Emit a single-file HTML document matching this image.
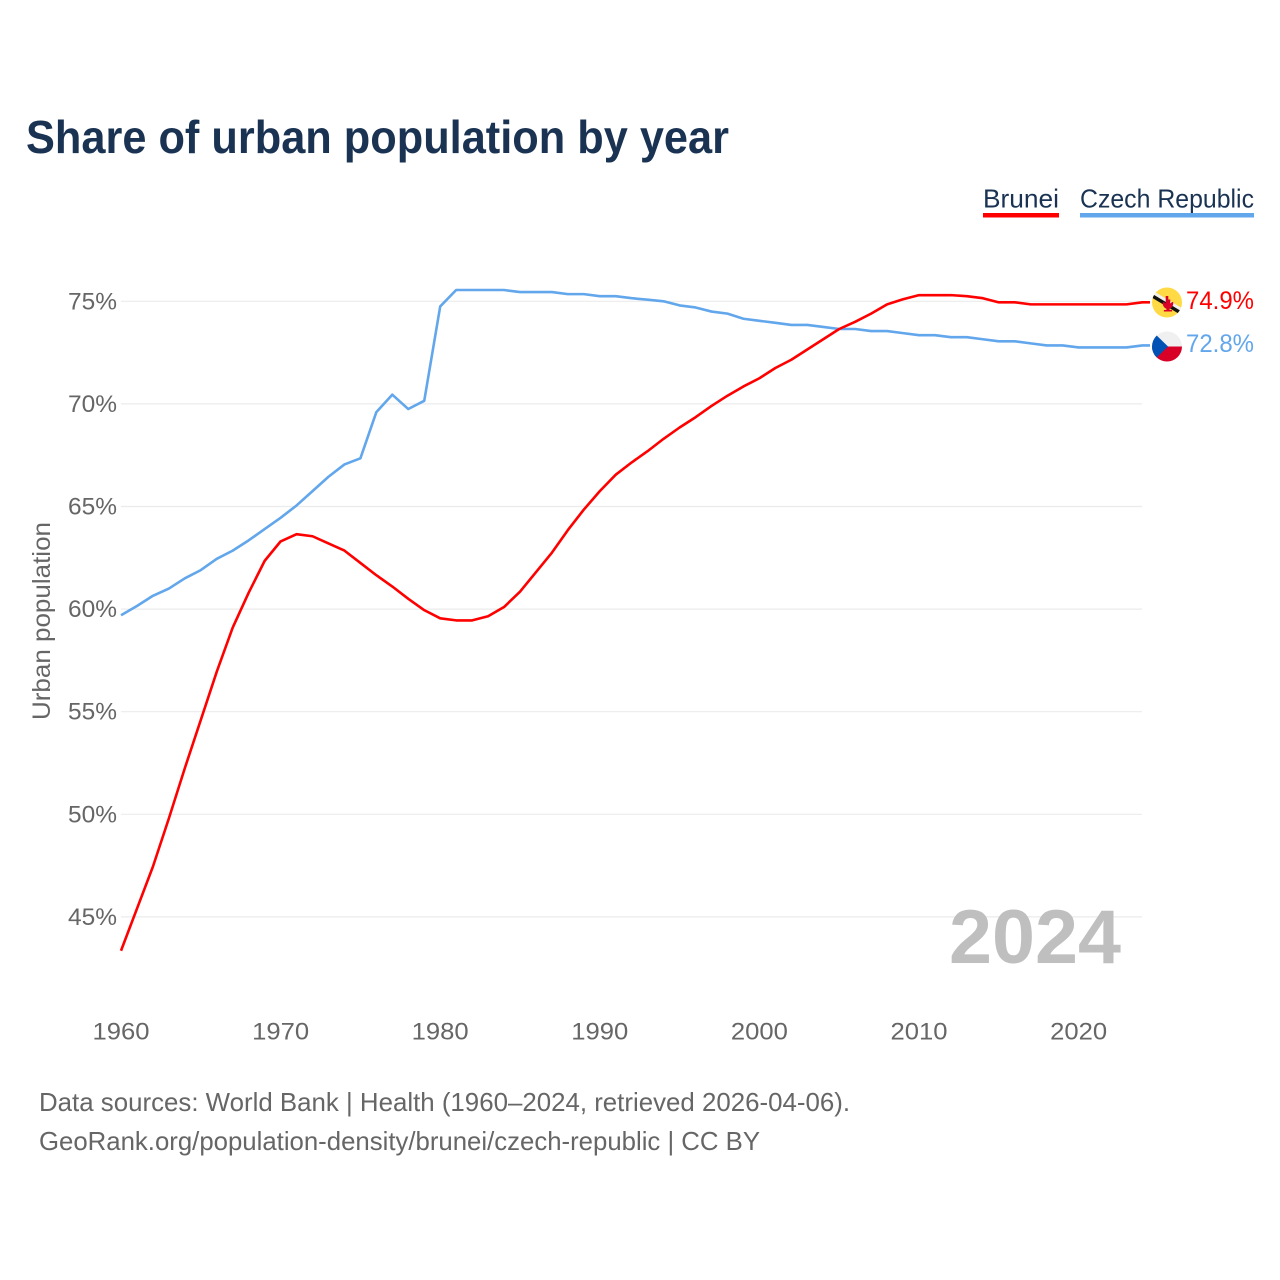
<!DOCTYPE html>
<html lang="en">
<head>
<meta charset="utf-8">
<title>Share of urban population by year</title>
<style>
html,body{margin:0;padding:0;background:#fff;width:1280px;height:1280px;overflow:hidden}
svg{display:block}
text{font-family:"Liberation Sans",sans-serif}
</style>
</head>
<body>
<svg id="chart" width="1280" height="1280" viewBox="0 0 1280 1280" xmlns="http://www.w3.org/2000/svg">
  <defs>
    <clipPath id="clip-bn"><circle cx="1167" cy="302.5" r="15"/></clipPath>
    <clipPath id="clip-cz"><circle cx="1167" cy="346.5" r="15"/></clipPath>
  </defs>
  <rect width="1280" height="1280" fill="#fff"/>
  <text x="26" y="153" font-size="46" font-weight="700" fill="#1a3353" textLength="703" lengthAdjust="spacingAndGlyphs">Share of urban population by year</text>

  <g>
    <g>
      <text x="983" y="207.500" font-size="26" fill="#1a3353" textLength="76" lengthAdjust="spacingAndGlyphs">Brunei</text>
      <rect x="983" y="213" width="76" height="4.5" fill="#ff0000"/>
    </g>
    <g>
      <text x="1080" y="207.500" font-size="26" fill="#1a3353" textLength="174" lengthAdjust="spacingAndGlyphs">Czech Republic</text>
      <rect x="1080" y="213" width="174" height="4.5" fill="#62a6ec"/>
    </g>
  </g>

  <g id="grid"></g>
  <g id="yticks"></g>
  <g id="xticks"></g>
  <text transform="translate(50,621) rotate(-90)" text-anchor="middle" font-size="25" fill="#666" textLength="198" lengthAdjust="spacingAndGlyphs">Urban population</text>

  <text x="949" y="963" font-size="76" font-weight="700" fill="#bfbfbf" textLength="172" lengthAdjust="spacingAndGlyphs">2024</text>

  <g id="series"></g>

  <g clip-path="url(#clip-bn)">
    <rect x="1150" y="285" width="34" height="36" fill="#ffda44"/>
    <polygon points="1150,289 1186,310.500 1186,314 1150,292.500" fill="#f0f0f0"/>
    <polygon points="1150,292.500 1186,314 1186,318 1150,296.500" fill="#111"/>
    <path d="M1165.700 296h2.600v3.500h2v4l2-1.600 1 .6c0 3.500-1.600 5.500-3.700 6.200v1.300h2.500v1.500h-8.200v-1.500h2.500v-1.300c-2.100-.7-3.700-2.700-3.700-6.200l1-.6 2 1.600v-4h.0z" fill="#d80027"/>
  </g>
  <g clip-path="url(#clip-cz)">
    <rect x="1150" y="329" width="34" height="18" fill="#f0f0f0"/>
    <rect x="1150" y="346.500" width="34" height="18" fill="#d80027"/>
    <polygon points="1150,329 1168,346.500 1150,364" fill="#0052b4"/>
  </g>

  <text x="1186" y="309" font-size="25" fill="#ff0000" textLength="68" lengthAdjust="spacingAndGlyphs">74.9%</text>
  <text x="1186" y="352" font-size="25" fill="#62a6ec" textLength="68" lengthAdjust="spacingAndGlyphs">72.8%</text>

  <text x="39" y="1111" font-size="26" fill="#666" textLength="811" lengthAdjust="spacingAndGlyphs">Data sources: World Bank | Health (1960–2024, retrieved 2026-04-06).</text>
  <text x="39" y="1150" font-size="26" fill="#666" textLength="721" lengthAdjust="spacingAndGlyphs">GeoRank.org/population-density/brunei/czech-republic | CC BY</text>
</svg>
<script>
const years = [1960,1961,1962,1963,1964,1965,1966,1967,1968,1969,1970,1971,1972,1973,1974,1975,1976,1977,1978,1979,1980,1981,1982,1983,1984,1985,1986,1987,1988,1989,1990,1991,1992,1993,1994,1995,1996,1997,1998,1999,2000,2001,2002,2003,2004,2005,2006,2007,2008,2009,2010,2011,2012,2013,2014,2015,2016,2017,2018,2019,2020,2021,2022,2023,2024];
const brunei = [43.35,45.4,47.45,49.8,52.25,54.6,56.95,59.1,60.8,62.35,63.3,63.65,63.55,63.2,62.85,62.25,61.65,61.1,60.5,59.95,59.55,59.45,59.45,59.65,60.1,60.85,61.8,62.75,63.85,64.85,65.75,66.55,67.15,67.7,68.3,68.85,69.35,69.9,70.4,70.85,71.25,71.75,72.15,72.65,73.15,73.65,74.0,74.4,74.85,75.1,75.3,75.3,75.3,75.25,75.15,74.95,74.95,74.85,74.85,74.85,74.85,74.85,74.85,74.85,74.95];
const czech = [59.7,60.15,60.65,61.0,61.5,61.9,62.45,62.85,63.35,63.9,64.45,65.05,65.75,66.45,67.05,67.35,69.6,70.45,69.75,70.15,74.75,75.55,75.55,75.55,75.55,75.45,75.45,75.45,75.35,75.35,75.25,75.25,75.15,75.08,75.0,74.8,74.7,74.5,74.4,74.15,74.05,73.95,73.85,73.85,73.75,73.65,73.65,73.55,73.55,73.45,73.35,73.35,73.25,73.25,73.15,73.05,73.05,72.95,72.85,72.85,72.75,72.75,72.75,72.75,72.85];
const yTickValues = [45,50,55,60,65,70,75];
const xTickValues = [1960,1970,1980,1990,2000,2010,2020];

const NS = 'http://www.w3.org/2000/svg';
function xScale(year){ return 121 + (year - 1960) * 15.96; }
function yScale(value){ return 301.3 + (75 - value) * 20.52; }

const grid = document.getElementById('grid');
const yticks = document.getElementById('yticks');
const xticks = document.getElementById('xticks');
const series = document.getElementById('series');

yTickValues.forEach(function(v){
  const line = document.createElementNS(NS, 'line');
  
  
  line.setAttribute('x1', 121);
  line.setAttribute('x2', 1142);
  line.setAttribute('y1', yScale(v));
  line.setAttribute('y2', yScale(v));
  line.setAttribute('stroke', '#ebebeb');
  line.setAttribute('stroke-width', 1.2);
  grid.appendChild(line);

  const label = document.createElementNS(NS, 'text');
  
  
  label.setAttribute('x', 68);
  label.setAttribute('y', yScale(v) + 8);
  label.setAttribute('font-size', 24.5);
  label.setAttribute('fill', '#666');
  label.setAttribute('textLength', 49);
  label.setAttribute('lengthAdjust', 'spacingAndGlyphs');
  label.textContent = v + '%';
  yticks.appendChild(label);
});

xTickValues.forEach(function(y){
  const label = document.createElementNS(NS, 'text');
  
  
  label.setAttribute('x', xScale(y) - 28.5);
  label.setAttribute('y', 1039.5);
  label.setAttribute('font-size', 24.5);
  label.setAttribute('fill', '#666');
  label.setAttribute('textLength', 57);
  label.setAttribute('lengthAdjust', 'spacingAndGlyphs');
  label.textContent = y;
  xticks.appendChild(label);
});

function linePath(values){
  const pts = values.map(function(v, i){ return xScale(years[i]).toFixed(2) + ',' + yScale(v).toFixed(2); });
  const last = values[values.length - 1];
  return 'M' + pts.join('L') + 'L1150,' + yScale(last).toFixed(2);
}

const czechLine = document.createElementNS(NS, 'path');


czechLine.setAttribute('d', linePath(czech));
czechLine.setAttribute('fill', 'none');
czechLine.setAttribute('stroke', '#62a6ec');
czechLine.setAttribute('stroke-width', 2.6);
czechLine.setAttribute('stroke-linejoin', 'round');
series.appendChild(czechLine);

const bruneiLine = document.createElementNS(NS, 'path');


bruneiLine.setAttribute('d', linePath(brunei));
bruneiLine.setAttribute('fill', 'none');
bruneiLine.setAttribute('stroke', '#ff0000');
bruneiLine.setAttribute('stroke-width', 2.6);
bruneiLine.setAttribute('stroke-linejoin', 'round');
series.appendChild(bruneiLine);
</script>
</body>
</html>
